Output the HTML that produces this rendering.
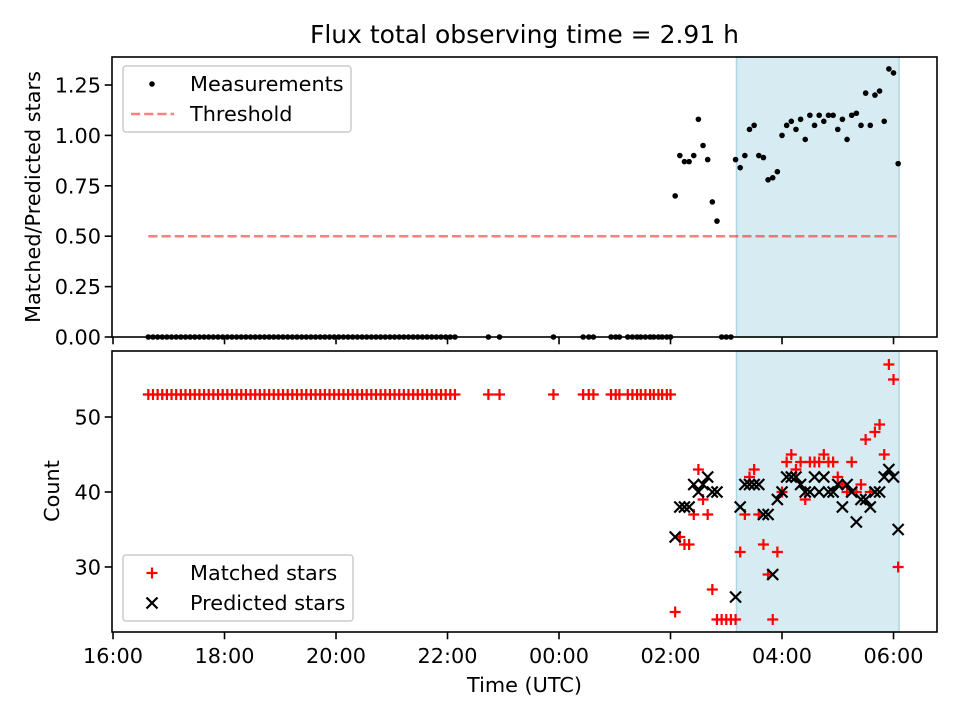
<!DOCTYPE html>
<html><head><meta charset="utf-8"><style>
body{margin:0;background:#fff}
svg{display:block;font-family:"DejaVu Sans","Liberation Sans",sans-serif}
</style></head><body>
<svg id="chart" width="960" height="720" viewBox="0 0 960 720"></svg>
<script>
// ---- data (times in minutes since 16:00) ----
const earlyTimes = [];
for (let m = 38; m <= 368; m += 5) earlyTimes.push(m);
const gapTimes = [404, 416, 474, 506, 512, 517, 536, 541, 545, 554, 559, 564, 568, 573, 578, 582, 587, 591, 596, 600];
const lateTimes = [];
for (let k = 0; k < 49; k++) lateTimes.push(605 + 5 * k);
const lateRatio = [0.70,0.90,0.87,0.87,0.90,1.08,0.95,0.88,0.67,0.575,0,0,0,0.88,0.84,0.90,1.03,1.05,0.90,0.89,0.78,0.79,0.82,1.00,1.05,1.07,1.03,1.08,0.98,1.10,1.05,1.10,1.07,1.10,1.10,1.03,1.08,0.98,1.10,1.11,1.05,1.21,1.05,1.20,1.22,1.07,1.33,1.31,0.86];
const lateMatched = [24,34,33,33,37,43,39,37,27,23,23,23,23,23,32,37,42,43,37,33,29,23,32,40,44,45,43,44,39,44,44,44,45,44,44,42,41,40,44,40,41,47,40,48,49,45,57,55,30];
const latePredicted = [34,38,38,38,41,40,41,42,40,40,null,null,null,26,38,41,41,41,41,37,37,29,39,40,42,42,42,41,40,40,42,40,42,40,40,41,38,41,40,36,39,39,38,40,40,42,43,42,35];
const earlyMatched = 53;
const threshold = 0.5;
const shadeRange = [671, 846];
const xTickLabels = ["16:00","18:00","20:00","22:00","00:00","02:00","04:00","06:00"];
const xTickMinutes = [0,120,240,360,480,600,720,840];
const topTicks = [0,0.25,0.5,0.75,1.0,1.25];
const botTicks = [30,40,50];

// ---- axes ----
const L = 112, R = 937;
const xMin = -1.1, xMax = 886.8;
const X = m => L + (m - xMin) / (xMax - xMin) * (R - L);
const T = {top:57, bot:337, min:0, max:1.389};
const B = {top:351, bot:632, min:21.33, max:58.8};
const YT = v => T.bot - (v - T.min) / (T.max - T.min) * (T.bot - T.top);
const YB = v => B.bot - (v - B.min) / (B.max - B.min) * (B.bot - B.top);
const svg = document.getElementById('chart');
const NS = 'http://www.w3.org/2000/svg';
const FS = 20.8;
function mk(tag, attrs, parent){const e=document.createElementNS(NS,tag);for(const k in attrs)e.setAttribute(k,attrs[k]);(parent||svg).appendChild(e);return e;}
function txt(s, attrs, parent){const e=mk('text',attrs,parent);e.textContent=s;return e;}

// shading
for (const [ax,nm] of [[T,'top'],[B,'bottom']]) {
  const r = mk('rect',{x:X(shadeRange[0]),y:ax.top,width:X(shadeRange[1])-X(shadeRange[0]),height:ax.bot-ax.top,fill:'#add8e6','fill-opacity':0.5,stroke:'#add8e6','stroke-width':1.5});
  
  
}

// threshold
const th = mk('line',{x1:X(earlyTimes[0]),x2:X(lateTimes[lateTimes.length-1]),y1:YT(threshold),y2:YT(threshold),stroke:'#ff0000','stroke-opacity':0.5,'stroke-width':2.5,'stroke-dasharray':'9.2,4'});



// measurement dots
const allT = earlyTimes.concat(gapTimes, lateTimes);
const allR = earlyTimes.map(()=>0).concat(gapTimes.map(()=>0), lateRatio);
const gTop = mk('g',{});


allT.forEach((t,i)=>{
  const c = mk('circle',{cx:X(t),cy:YT(allR[i]),r:2.8,fill:'#000'},gTop);
  
  
});

// matched / predicted
const allM = earlyTimes.map(()=>earlyMatched).concat(gapTimes.map(()=>earlyMatched), lateMatched);
const gM = mk('g',{stroke:'#ff0000','stroke-width':2.2});


allT.forEach((t,i)=>{
  const x=X(t), y=YB(allM[i]);
  const p = mk('path',{d:`M${x-5.5},${y}H${x+5.5}M${x},${y-5.5}V${y+5.5}`},gM);
  
  
});
const gP = mk('g',{stroke:'#000','stroke-width':2.2});


lateTimes.forEach((t,i)=>{
  if (latePredicted[i]===null) return;
  const x=X(t), y=YB(latePredicted[i]);
  const p = mk('path',{d:`M${x-5.5},${y-5.5}L${x+5.5},${y+5.5}M${x-5.5},${y+5.5}L${x+5.5},${y-5.5}`},gP);
  
  
});

// frames
for (const [ax,nm] of [[T,'top'],[B,'bottom']]) {
  const f = mk('rect',{x:L,y:ax.top,width:R-L,height:ax.bot-ax.top,fill:'none',stroke:'#000','stroke-width':1.6});
  
  
}
// x ticks
xTickMinutes.forEach((m,i)=>{
  const x=X(m);
  mk('line',{x1:x,x2:x,y1:T.bot,y2:T.bot+7.3,stroke:'#000','stroke-width':1.6});
  mk('line',{x1:x,x2:x,y1:B.bot,y2:B.bot+7.3,stroke:'#000','stroke-width':1.6});
  const t = txt(xTickLabels[i],{x:x,y:663,'text-anchor':'middle','font-size':FS});
  
  
});
topTicks.forEach(v=>{
  const y=YT(v);
  mk('line',{x1:L-7.3,x2:L,y1:y,y2:y,stroke:'#000','stroke-width':1.6});
  const t = txt(v.toFixed(2),{x:L-11,y:y+7.5,'text-anchor':'end','font-size':FS});
  
  
});
botTicks.forEach(v=>{
  const y=YB(v);
  mk('line',{x1:L-7.3,x2:L,y1:y,y2:y,stroke:'#000','stroke-width':1.6});
  const t = txt(String(v),{x:L-11,y:y+7.5,'text-anchor':'end','font-size':FS});
  
  
});

const title = txt('Flux total observing time = 2.91 h',{x:524.5,y:43,'text-anchor':'middle','font-size':25});


const xl = txt('Time (UTC)',{x:524.5,y:692,'text-anchor':'middle','font-size':FS});


const yl1 = txt('Matched/Predicted stars',{x:0,y:0,'text-anchor':'middle','font-size':FS,transform:'translate(40,197) rotate(-90)'});


const yl2 = txt('Count',{x:0,y:0,'text-anchor':'middle','font-size':FS,transform:'translate(59,491) rotate(-90)'});



// legends
const lg1 = mk('g',{});


mk('rect',{x:123,y:66,width:228,height:66,rx:3,fill:'#fff','fill-opacity':0.8,stroke:'#ccc','stroke-width':1.5},lg1);
mk('circle',{cx:152,cy:84,r:2.8,fill:'#000'},lg1);
mk('line',{x1:131,x2:174,y1:114,y2:114,stroke:'#ff0000','stroke-opacity':0.5,'stroke-width':2.5,'stroke-dasharray':'9.2,4'},lg1);
const le1 = txt('Measurements',{x:190,y:91,'font-size':FS},lg1);


const le2 = txt('Threshold',{x:190,y:121,'font-size':FS},lg1);



const lg2 = mk('g',{});


mk('rect',{x:123,y:555,width:230,height:66,rx:3,fill:'#fff','fill-opacity':0.8,stroke:'#ccc','stroke-width':1.5},lg2);
mk('path',{d:'M146.5,573H157.5M152,567.5V578.5',stroke:'#ff0000','stroke-width':2.2},lg2);
mk('path',{d:'M146.5,597.5L157.5,608.5M146.5,608.5L157.5,597.5',stroke:'#000','stroke-width':2.2},lg2);
const le3 = txt('Matched stars',{x:190,y:580,'font-size':FS},lg2);


const le4 = txt('Predicted stars',{x:190,y:610,'font-size':FS},lg2);


</script>
</body></html>
